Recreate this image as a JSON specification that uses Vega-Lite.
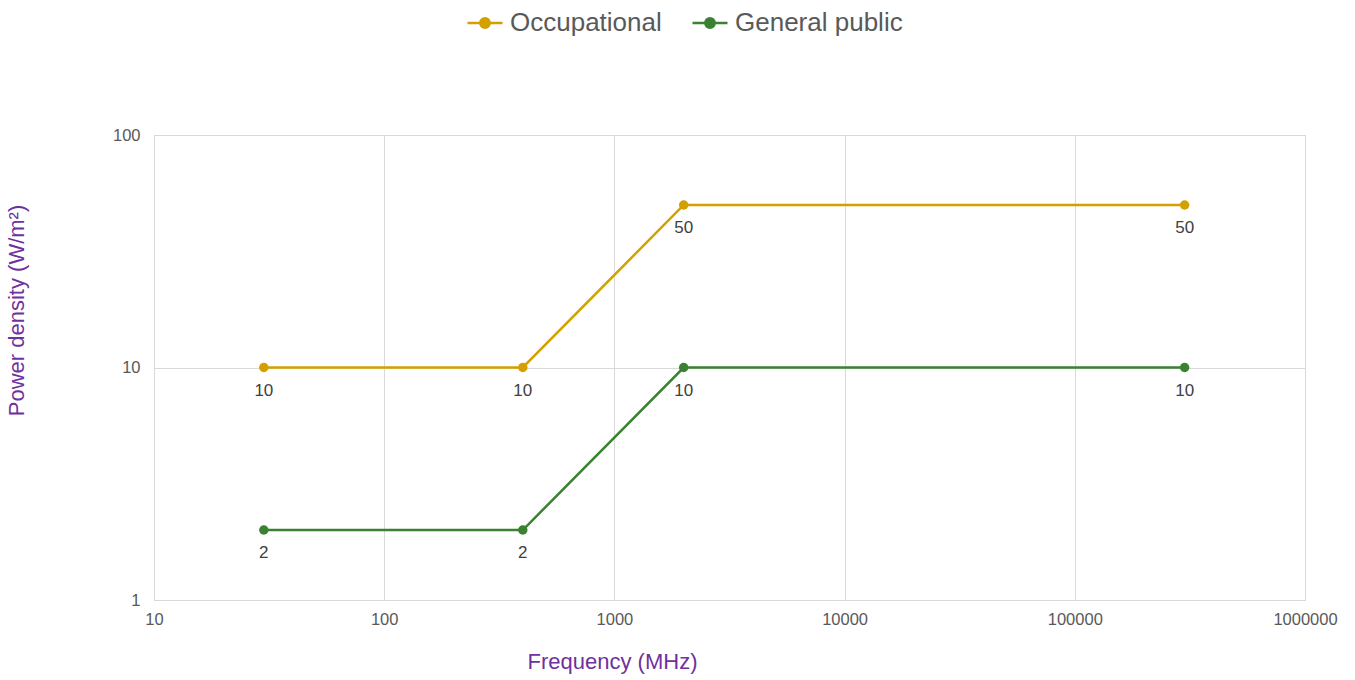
{
  "$schema": "https://vega.github.io/schema/vega-lite/v6.json",
  "autosize": "none",
  "width": 1151,
  "height": 465,
  "padding": {"left": 154, "top": 135, "right": 50, "bottom": 80},
  "background": "white",
  "config": {
    "font": "Liberation Sans",
    "view": {"stroke": "#D9D9D9"},
    "axis": {"labelFont": "Liberation Sans", "titleFont": "Liberation Sans"}
  },
  "data": {
    "values": [
      {"series": "Occupational", "freq": 30, "pd": 10},
      {"series": "Occupational", "freq": 400, "pd": 10},
      {"series": "Occupational", "freq": 2000, "pd": 50},
      {"series": "Occupational", "freq": 300000, "pd": 50},
      {"series": "General public", "freq": 30, "pd": 2},
      {"series": "General public", "freq": 400, "pd": 2},
      {"series": "General public", "freq": 2000, "pd": 10},
      {"series": "General public", "freq": 300000, "pd": 10}
    ]
  },
  "encoding": {
    "x": {
      "field": "freq", "type": "quantitative",
      "scale": {"type": "log", "domain": [10, 1000000], "nice": false},
      "axis": {
        "values": [10, 100, 1000, 10000, 100000, 1000000],
        "format": "d",
        "title": "Frequency (MHz)",
        "titleColor": "#7030A0", "titleFontSize": 22, "titleFontWeight": "normal",
        "titleX": 458, "titleY": 51, "titleAnchor": "middle",
        "labelColor": "#595959", "labelFontSize": 16.5, "labelPadding": 11,
        "labelFlush": false, "labelOverlap": false,
        "grid": true, "gridColor": "#D9D9D9", "domain": false, "ticks": false
      }
    },
    "y": {
      "field": "pd", "type": "quantitative",
      "scale": {"type": "log", "domain": [1, 100], "nice": false},
      "axis": {
        "values": [1, 10, 100],
        "format": "d",
        "title": "Power density (W/m²)",
        "titleColor": "#7030A0", "titleFontSize": 22, "titleFontWeight": "normal",
        "titleX": -126, "titleY": 175, "titleAnchor": "middle",
        "labelColor": "#595959", "labelFontSize": 16.5, "labelPadding": 14,
        "labelFlush": false,
        "grid": true, "gridColor": "#D9D9D9", "domain": false, "ticks": false
      }
    },
    "color": {
      "field": "series", "type": "nominal",
      "scale": {"domain": ["Occupational", "General public"], "range": ["#D4A000", "#3A8131"]},
      "legend": {
        "title": null,
        "orient": "none",
        "direction": "horizontal",
        "legendX": 312,
        "legendY": -131,
        "labelFontSize": 26,
        "labelLimit": 400,
        "labelColor": "#595959",
        "symbolType": "M-1,0L1,0M-0.27,0A0.27,0.27 0 1,1 0.27,0A0.27,0.27 0 1,1 -0.27,0Z",
        "symbolSize": 1225,
        "symbolStrokeWidth": 2.5,
        "columnPadding": 25,
        "labelOffset": 6,
        "encode": {"symbols": {"update": {"fill": {"field": "value", "scale": "color"}, "fillOpacity": {"value": 1}}}}
      }
    }
  },
  "layer": [
    {
      "mark": {"type": "line", "strokeWidth": 2.5, "point": {"filled": true, "size": 90, "opacity": 1}}
    },
    {
      "mark": {"type": "text", "dy": 23, "fontSize": 17, "color": "#404040"},
      "encoding": {
        "text": {"field": "pd", "type": "quantitative"},
        "color": {"value": "#404040"}
      }
    }
  ]
}
